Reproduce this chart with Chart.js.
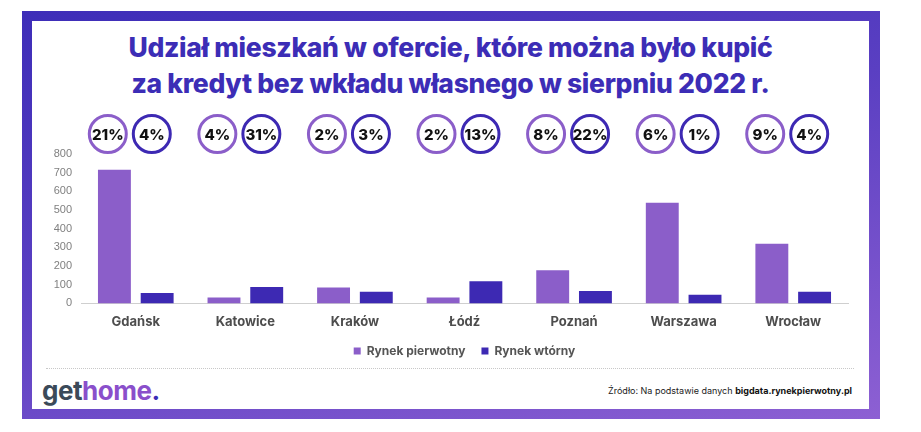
<!DOCTYPE html>
<html lang="pl">
<head>
<meta charset="utf-8">
<script src="https://cdn.jsdelivr.net/npm/chart.js@4"></script>
<style>
  body { margin: 0; width: 921px; height: 432px; position: relative; overflow: hidden; background: #fff; font-family: Inter, 'Noto Sans', sans-serif; }
  #frame { position: absolute; left: 22px; top: 11px; width: 858px; height: 408px; background: linear-gradient(165deg, #3d2db8 0%, #5a3fc2 45%, #8d60d3 100%); }
  #inner { position: absolute; left: 32px; top: 21px; width: 837px; height: 388px; background: #fff; }
  #title { position: absolute; left: 32px; width: 837px; top: 29px; text-align: center; color: #3c2db6; font-weight: 800; font-size: 26.5px; line-height: 36px; letter-spacing: -0.3px; }
  #sep { position: absolute; left: 46px; width: 808px; top: 368px; border-top: 1px dotted #c8c8c8; }
  #logo { position: absolute; left: 42px; top: 375px; font-size: 26px; font-weight: 700; letter-spacing: -0.5px; }
  #logo .g { color: #3b4a59; }
  #logo .h { color: #8a4fcb; }
  #logo .d { color: #3b2db6; }
  #source { position: absolute; right: 69px; top: 385px; font-size: 9px; color: #222; }
  #source b { color: #111; }
  #chart { position: absolute; left: 0; top: 0; }
</style>
</head>
<body>
<div id="frame"></div>
<div id="inner"></div>
<div id="title">Udział mieszkań w ofercie, które można było kupić<br>za kredyt bez wkładu własnego w sierpniu 2022 r.</div>
<div id="sep"></div>
<div id="logo"><span class="g">get</span><span class="h">home</span><span class="d">.</span></div>
<div id="source">Źródło: Na podstawie danych <b>bigdata.rynekpierwotny.pl</b></div>
<canvas id="chart" width="921" height="432"></canvas>
<script>
// Dane z wykresu (liczba mieszkan i udzial procentowy)
const cities = ['Gdańsk', 'Katowice', 'Kraków', 'Łódź', 'Poznań', 'Warszawa', 'Wrocław'];
const primaryMarket = [715, 32, 85, 32, 178, 539, 320];
const secondaryMarket = [56, 88, 62, 119, 67, 46, 62];
const primaryShare = [21, 4, 2, 2, 8, 6, 9];
const secondaryShare = [4, 31, 3, 13, 22, 1, 4];
const seriesNames = ['Rynek pierwotny', 'Rynek wtórny'];

const LIGHT = '#8b5ec9';
const DARK = '#3d29b3';

// kolka z procentami nad slupkami
const shareCircles = {
  id: 'shareCircles',
  afterLayout(chart) {
    // legenda blizej osi X
    const lg = chart.legend;
    if (lg) { lg.top -= 12; lg.bottom -= 12; }
  },
  afterDraw(chart) {
    const { ctx, chartArea } = chart;
    const x = chart.scales.x;
    const y = chartArea.top - 20;
    ctx.save();
    ctx.textAlign = 'center';
    ctx.textBaseline = 'middle';
    ctx.font = '800 15px Inter, sans-serif';
    cities.forEach((c, i) => {
      const cx = x.getPixelForValue(i) - 6;
      [[cx - 22, LIGHT, primaryShare[i]], [cx + 22, DARK, secondaryShare[i]]].forEach(([px, col, v]) => {
        ctx.beginPath();
        ctx.arc(px, y, 18.5, 0, Math.PI * 2);
        ctx.lineWidth = 3;
        ctx.strokeStyle = col;
        ctx.stroke();
        ctx.fillStyle = '#111';
        ctx.fillText(v + '%', px, y + 1);
      });
    });
    ctx.restore();
  },
};

new Chart(document.getElementById('chart'), {
  type: 'bar',
  data: {
    labels: cities,
    datasets: [
      { label: seriesNames[0], data: primaryMarket, backgroundColor: LIGHT, borderWidth: 0 },
      { label: seriesNames[1], data: secondaryMarket, backgroundColor: DARK, borderWidth: 0 },
    ],
  },
  options: {
    responsive: false,
    animation: false,
    layout: { padding: { left: 30, right: 73, top: 154, bottom: 53 } },
    datasets: { bar: { categoryPercentage: 0.78, barPercentage: 0.77 } },
    plugins: {
      tooltip: { enabled: false },
      legend: {
        position: 'bottom',
        fullSize: false,
        labels: {
          boxWidth: 7,
          boxHeight: 7,
          padding: 16,
          color: '#555',
          font: { family: 'Inter, sans-serif', size: 12, weight: '700' },
        },
      },
    },
    scales: {
      x: {
        grid: { display: false, drawTicks: false },
        border: { display: true, color: '#cfcfcf', dash: [2, 2], width: 1 },
        ticks: { padding: 11, color: '#4d4d4d', font: { family: 'Inter, sans-serif', size: 13, weight: '700' } },
      },
      y: {
        min: 0,
        max: 800,
        afterFit(s) { s.width = 51; },
        grid: { display: false, drawTicks: false },
        border: { display: false },
        ticks: { stepSize: 100, padding: 9, color: '#808080', font: { family: 'Liberation Sans, sans-serif', size: 11 } },
      },
    },
  },
  plugins: [shareCircles],
});
</script>
</body>
</html>
